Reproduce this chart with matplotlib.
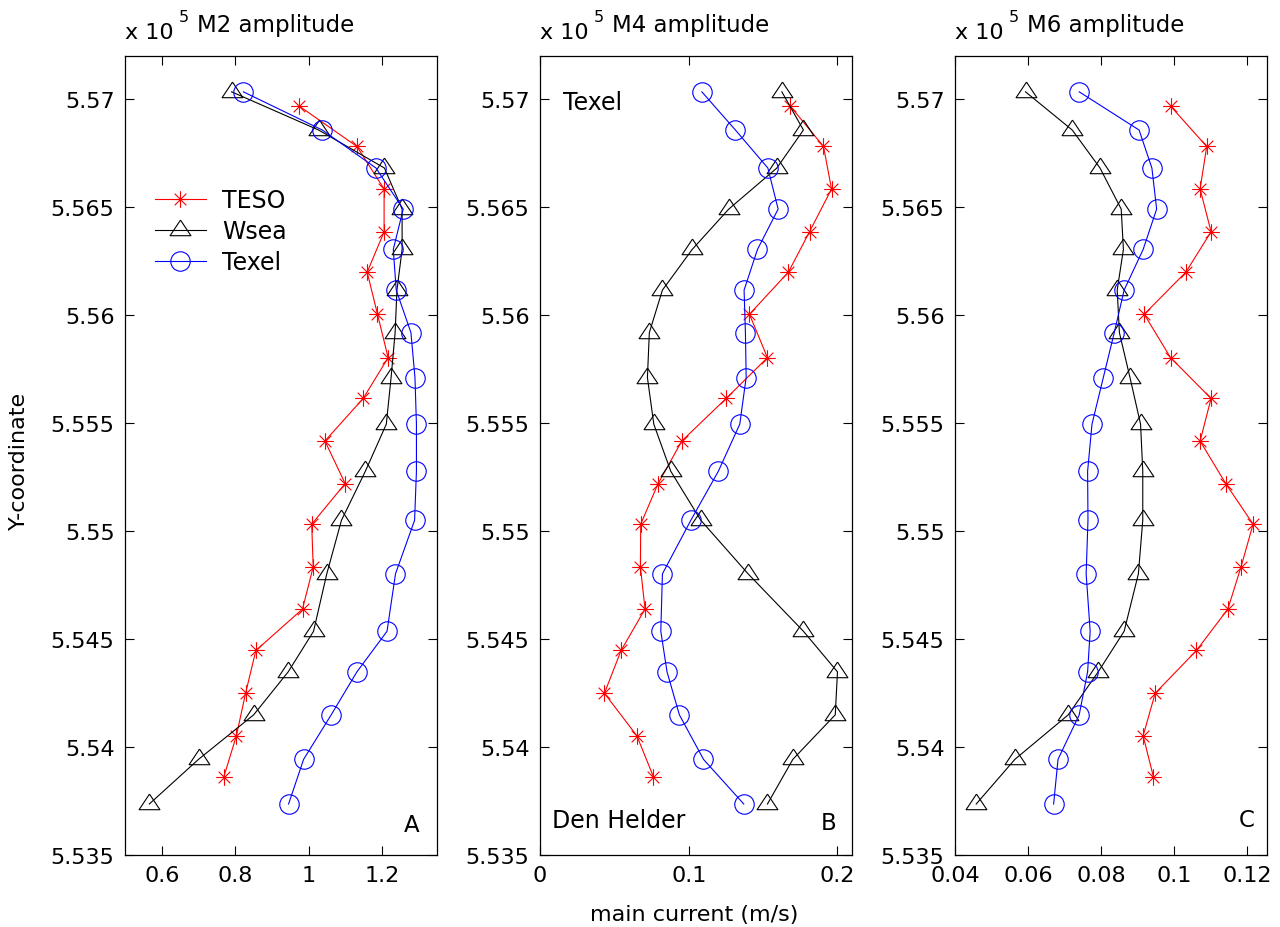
import matplotlib
matplotlib.use("Agg")
import matplotlib.pyplot as plt
from matplotlib.path import Path
from matplotlib.ticker import FormatStrFormatter

plt.rcParams["font.family"] = ["DejaVu Sans"]

# --- data (y in units of 1e5) ---
y_teso = [5.56968, 5.56781, 5.56584, 5.56386, 5.56199, 5.56004, 5.55803, 5.55614, 5.55417,
          5.55220, 5.55032, 5.54834, 5.54639, 5.54447, 5.54249, 5.54052, 5.53863]
y_stat = [5.57034, 5.56857, 5.56681, 5.56491, 5.56304, 5.56116, 5.55919, 5.55711, 5.55495,
          5.55277, 5.55050, 5.54802, 5.54536, 5.54348, 5.54149, 5.53943, 5.53736]

m2_teso = [0.974, 1.131, 1.205, 1.205, 1.159, 1.187, 1.216, 1.148, 1.044, 1.099, 1.008,
           1.012, 0.983, 0.856, 0.828, 0.803, 0.769]
m2_wsea = [0.790, 1.027, 1.206, 1.254, 1.254, 1.240, 1.235, 1.224, 1.211, 1.154, 1.089,
           1.049, 1.013, 0.944, 0.850, 0.700, 0.566]
m2_texel = [0.822, 1.037, 1.183, 1.257, 1.230, 1.238, 1.278, 1.289, 1.293, 1.293, 1.288,
            1.236, 1.213, 1.131, 1.061, 0.986, 0.945]

m4_teso = [0.1682, 0.1906, 0.1960, 0.1812, 0.1670, 0.1408, 0.1529, 0.1251, 0.0953, 0.0794,
           0.0677, 0.0675, 0.0706, 0.0545, 0.0433, 0.0651, 0.0762]
m4_wsea = [0.1626, 0.1771, 0.1592, 0.1269, 0.1023, 0.0823, 0.0735, 0.0722, 0.0765, 0.0879,
           0.1081, 0.1399, 0.1771, 0.2000, 0.1985, 0.1700, 0.1529]
m4_texel = [0.1088, 0.1314, 0.1532, 0.1601, 0.1462, 0.1372, 0.1381, 0.1386, 0.1343, 0.1199,
            0.1014, 0.0823, 0.0812, 0.0854, 0.0937, 0.1099, 0.1370]

m6_teso = [0.0990, 0.1089, 0.1071, 0.1101, 0.1032, 0.0918, 0.0990, 0.1101, 0.1071, 0.1141,
           0.1216, 0.1183, 0.1147, 0.1061, 0.0948, 0.0915, 0.0943]
m6_wsea = [0.0593, 0.0721, 0.0797, 0.0855, 0.0861, 0.0844, 0.0850, 0.0879, 0.0908, 0.0914,
           0.0914, 0.0902, 0.0863, 0.0792, 0.0710, 0.0564, 0.0458]
m6_texel = [0.0740, 0.0904, 0.0939, 0.0952, 0.0915, 0.0863, 0.0836, 0.0806, 0.0775, 0.0763,
            0.0764, 0.0759, 0.0770, 0.0763, 0.0740, 0.0682, 0.0670]

titles = ["M2 amplitude", "M4 amplitude", "M6 amplitude"]
panel_letters = ["A", "B", "C"]
xlims = [(0.5, 1.35), (0.0, 0.21), (0.04, 0.1255)]
xticks = [[0.6, 0.8, 1.0, 1.2], [0.0, 0.1, 0.2], [0.04, 0.06, 0.08, 0.1, 0.12]]
yticks = [5.535, 5.54, 5.545, 5.55, 5.555, 5.56, 5.565, 5.57]

# MATLAB-like markers: asterisk (+ and x) and triangle centred on its centroid
star = Path([(-1, 0), (1, 0), (0, -1), (0, 1), (-0.7, -0.7), (0.7, 0.7), (-0.7, 0.7), (0.7, -0.7)],
            [Path.MOVETO, Path.LINETO] * 4)
tri = [(0, 1), (-1, -0.5), (1, -0.5), (0, 1)]

fig = plt.figure(figsize=(12.8, 9.28), dpi=100)
lefts = [0.0977, 0.4219, 0.7461]
axes = [fig.add_axes([l, 0.0776, 0.2440, 0.8610]) for l in lefts]

series = [
    (m2_teso, m2_wsea, m2_texel),
    (m4_teso, m4_wsea, m4_texel),
    (m6_teso, m6_wsea, m6_texel),
]

for i, (ax, (teso, wsea, texel)) in enumerate(zip(axes, series)):
    ax.plot(teso, y_teso, color="red", lw=0.8, marker=star, ms=12, mfc="none",
            mec="red", mew=0.8, label="TESO")
    ax.plot(wsea, y_stat, color="black", lw=0.8, marker=tri, ms=15, mfc="none",
            mec="black", mew=0.8, label="Wsea")
    ax.plot(texel, y_stat, color="blue", lw=0.8, marker="o", ms=14, mfc="none",
            mec="blue", mew=0.8, label="Texel")

    ax.set_xlim(*xlims[i])
    ax.set_ylim(5.535, 5.572)
    ax.set_xticks(xticks[i])
    ax.set_yticks(yticks)
    ax.xaxis.set_major_formatter(FormatStrFormatter("%g"))
    ax.yaxis.set_major_formatter(FormatStrFormatter("%g"))
    ax.tick_params(direction="in", length=6.5, width=0.8, top=True, right=True,
                   labelsize=16, pad=7.5)
    for sp in ax.spines.values():
        sp.set_linewidth(0.9)

    # MATLAB style exponent label + title
    ax.annotate("x 10", xy=(0, 1), xycoords="axes fraction", xytext=(0, 12.7),
                textcoords="offset points", ha="left", va="baseline", fontsize=16)
    ax.annotate("5", xy=(0, 1), xycoords="axes fraction", xytext=(38.5, 25.4),
                textcoords="offset points", ha="left", va="baseline", fontsize=11.5)
    ax.annotate(titles[i], xy=(0, 1), xycoords="axes fraction", xytext=(51.5, 18.2),
                textcoords="offset points", ha="left", va="baseline", fontsize=16.5)
    ax.text([0.919, 0.923, 0.935][i], [0.038, 0.041, 0.045][i], panel_letters[i],
            transform=ax.transAxes, ha="center", va="center", fontsize=16.5)

axes[0].legend(loc="upper left", bbox_to_anchor=(0.096, 0.835), frameon=False,
               fontsize=17, handlelength=2.15, handletextpad=0.7, labelspacing=0.3,
               borderpad=0, borderaxespad=0)
axes[1].text(0.073, 0.942, "Texel", transform=axes[1].transAxes, ha="left", va="center",
             fontsize=17)
axes[1].text(0.037, 0.044, "Den Helder", transform=axes[1].transAxes, ha="left",
             va="center", fontsize=17)

fig.text(19 / 1280, 0.503, "Y-coordinate", rotation=90, ha="center", va="center",
         fontsize=16)
fig.text(694 / 1280, 1 - 915 / 928, "main current (m/s)", ha="center", va="center",
         fontsize=16)

fig.savefig("out.png", dpi=100)
